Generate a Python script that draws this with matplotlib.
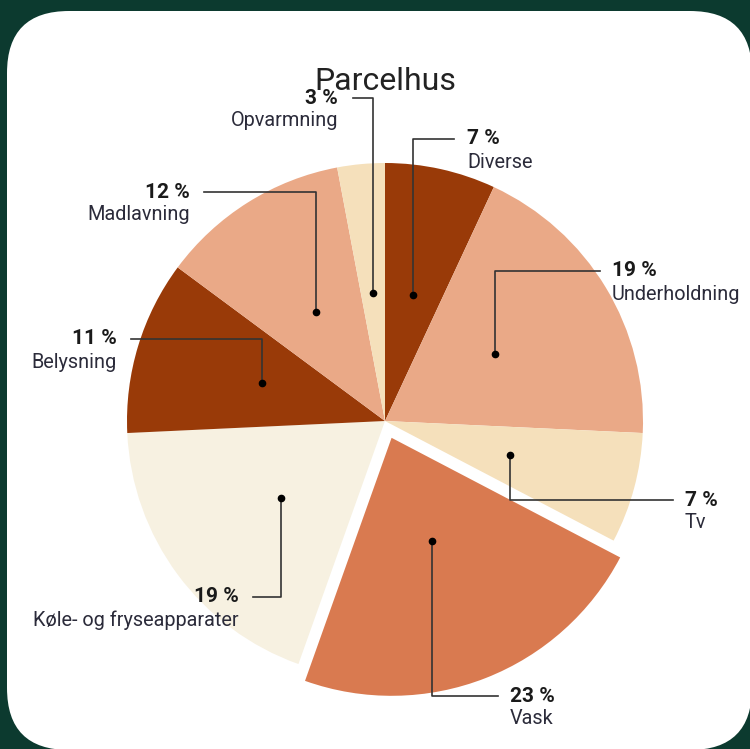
import numpy as np
import matplotlib
matplotlib.use("Agg")
import matplotlib.pyplot as plt
from matplotlib.patches import FancyBboxPatch

plt.rcParams['font.family'] = ['Roboto', 'DejaVu Sans']

# data
labels = ["Diverse", "Underholdning", "Tv", "Vask",
          "Køle- og fryseapparater", "Belysning", "Madlavning", "Opvarmning"]
pcts = [7, 19, 7, 23, 19, 11, 12, 3]

colors = ["#993a08", "#eaa987", "#f5e0bb", "#d97a50",
          "#f7f1e1", "#993a08", "#eaa987", "#f5e0bb"]
explode_frac = [0, 0, 0, 0.07, 0, 0, 0, 0]

# leader layout (image pixel coords): elbow y, line end x, text x, alignment
elbow_y = [139, 271, 500, 696, 597, 339, 192, 98]
end_x = [454, 600, 673, 498, 253, 131, 204, 353]
text_x = [467, 612, 685, 510, 239, 117, 190, 338]
align = ["left", "left", "left", "left", "right", "right", "right", "right"]

W, H = 750, 749
cx, cy, R = 385, 421, 258

fig = plt.figure(figsize=(7.5, 7.49), dpi=100)
fig.patch.set_facecolor("#0c3a2f")
ax = fig.add_axes([0, 0, 1, 1])
ax.set_axis_off()

card = FancyBboxPatch((7, -1), 745, H - 10, boxstyle="round,pad=0,rounding_size=62",
                      fc="white", ec="none", zorder=0)
ax.add_patch(card)

# explode is in data units, so scale by radius
wedges, _ = ax.pie(pcts, colors=colors, startangle=90, counterclock=False,
                   explode=[e * R for e in explode_frac], center=(cx, H - cy), radius=R,
                   wedgeprops=dict(linewidth=0))
for w in wedges:
    w.set_zorder(2)

for i, w in enumerate(wedges):
    mid = np.deg2rad((w.theta1 + w.theta2) / 2)
    dx = cx + 0.5 * R * np.cos(mid)
    dy = (H - cy) + 0.5 * R * np.sin(mid)
    ey = H - elbow_y[i]
    ax.plot([dx, dx, end_x[i]], [dy, ey, ey], color="#333333", lw=1.2, zorder=3)
    ax.plot(dx, dy, "o", color="black", ms=4.5, zorder=4)
    ax.text(text_x[i], ey, f"{pcts[i]} %", ha=align[i], va="center",
            fontsize=15, fontweight="bold", color="#1a1a1a", zorder=5)
    ax.text(text_x[i], ey - 23, labels[i], ha=align[i], va="center",
            fontsize=14.3, color="#2b2b3a", zorder=5)

ax.text(385, H - 82, "Parcelhus", ha="center", va="center",
        fontsize=23, color="#222222", zorder=4)

ax.set_xlim(0, W)
ax.set_ylim(0, H)
ax.set_aspect("auto")

fig.savefig("out.png", dpi=100, facecolor=fig.get_facecolor())
